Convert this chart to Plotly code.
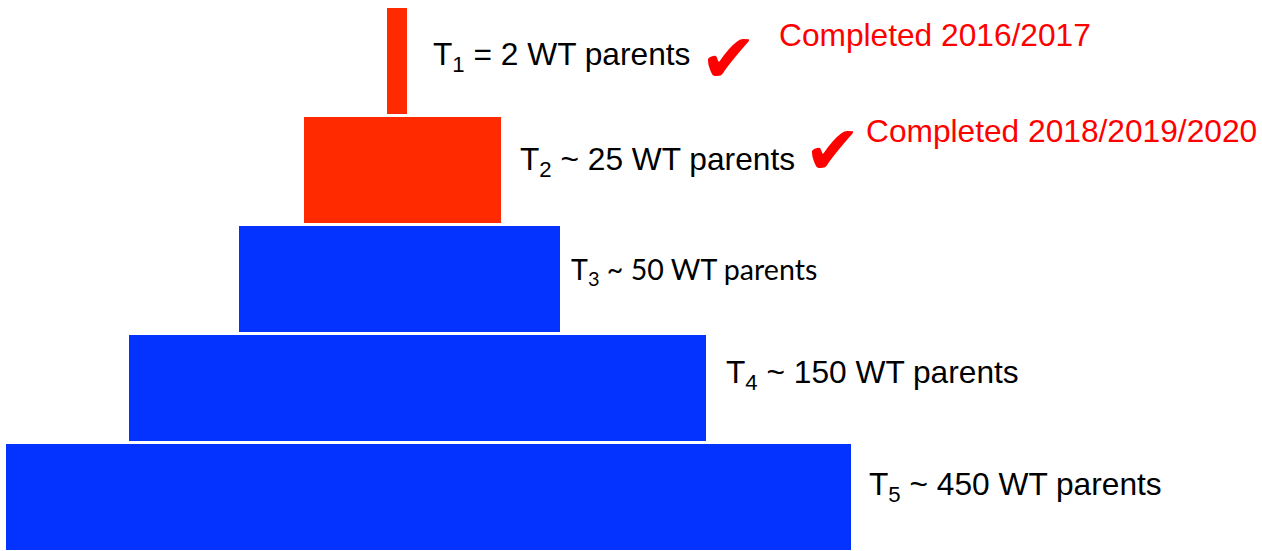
import plotly.graph_objects as go

# ---- data ----
tiers = [1, 2, 3, 4, 5]
bar_left = [386.5, 304, 239, 129, 6]
bar_right = [407, 501, 560, 706, 851]
tier_labels = [
    "T<sub>1</sub> = 2 WT parents",
    "T<sub>2</sub> ~ 25 WT parents",
    "T<sub>3</sub> ~ 50 WT parents",
    "T<sub>4</sub> ~ 150 WT parents",
    "T<sub>5</sub> ~ 450 WT parents",
]
completed_tiers = [1, 2]
completed_labels = ["Completed 2016/2017", "Completed 2018/2019/2020"]

# ---- styles / layout ----
RED = "#FF2A00"
BLUE = "#0433FF"
bar_colors = [RED, RED, BLUE, BLUE, BLUE]
label_x = [430.5, 517.5, 569, 724, 867]
label_shift = [5, 9, 8, 14, 11]
label_fonts = ["Liberation Sans", "Liberation Sans", "Lato", "Liberation Sans", "Liberation Sans"]
label_sizes = [31.7, 31.7, 28.6, 31.7, 31.7]
check_x = [728, 832]
check_shift = [3, 20]
done_x = [777, 864]
done_shift = [26, 39]

widths = [r - l for l, r in zip(bar_left, bar_right)]

fig = go.Figure()
fig.add_trace(go.Bar(
    y=tiers, x=widths, base=bar_left, orientation="h",
    width=0.972, marker=dict(color=bar_colors, line=dict(width=0)),
    hoverinfo="skip", showlegend=False,
))

annotations = []
for t, txt, x, s, f, fs in zip(tiers, tier_labels, label_x, label_shift, label_fonts, label_sizes):
    annotations.append(dict(
        x=x, y=t, xref="x", yref="y", text=txt, showarrow=False,
        xanchor="left", yanchor="middle", yshift=s,
        font=dict(family=f, size=fs, color="black"),
    ))
for t, cx, cs, dx, ds, txt in zip(completed_tiers, check_x, check_shift, done_x, done_shift, completed_labels):
    annotations.append(dict(
        x=cx, y=t, xref="x", yref="y", text="✔", showarrow=False,
        xanchor="center", yanchor="middle", yshift=cs,
        font=dict(family="DejaVu Sans", size=68, color="#FF0000"),
    ))
    annotations.append(dict(
        x=dx, y=t, xref="x", yref="y", text=txt, showarrow=False,
        xanchor="left", yanchor="middle", yshift=ds,
        font=dict(family="Liberation Sans", size=31.7, color="#FF0000"),
    ))

fig.update_layout(
    width=1262, height=551,
    margin=dict(l=0, r=0, t=0, b=0),
    paper_bgcolor="white", plot_bgcolor="white",
    xaxis=dict(range=[0, 1262], visible=False, fixedrange=True),
    yaxis=dict(range=[5.4954, 0.4404], visible=False, fixedrange=True),
    annotations=annotations,
    bargap=0,
)

fig.write_html("out.html", config={"displayModeBar": False},
               post_script="document.body.style.margin='0';document.body.style.overflow='hidden';")
